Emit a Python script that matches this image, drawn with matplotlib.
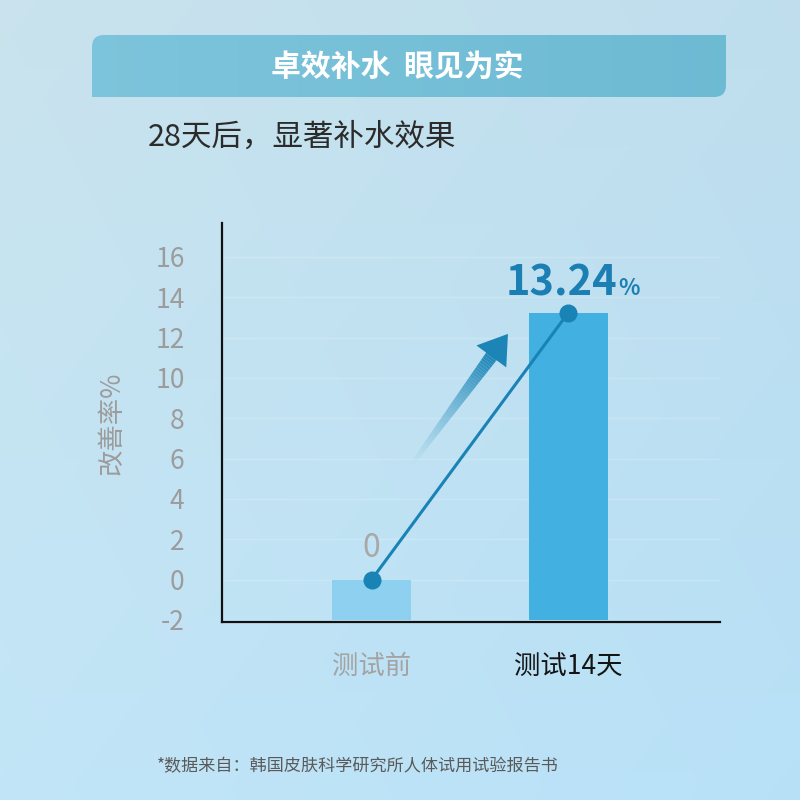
import numpy as np
import matplotlib
matplotlib.use("Agg")
import matplotlib.pyplot as plt
from matplotlib.path import Path
from matplotlib.patches import PathPatch, Polygon
from matplotlib.collections import LineCollection

plt.rcParams['font.family'] = ['Noto Sans CJK SC', 'DejaVu Sans']

# data
categories = ["测试前", "测试14天"]
values = [0, 13.24]
yticks = [-2, 0, 2, 4, 6, 8, 10, 12, 14, 16]
title = "卓效补水  眼见为实"
subtitle = "28天后，显著补水效果"
ylabel = "改善率%"
note = "*数据来自：韩国皮肤科学研究所人体试用试验报告书"

bar_colors = ["#8dd0f0", "#42b0e0"]
label_colors = ["#a3a3a3", "#141414"]
line_color = "#1a83b6"

fig = plt.figure(figsize=(8, 8), dpi=100)

# background in pixel coords
bg = fig.add_axes([0, 0, 1, 1], zorder=-10)
bg.set_xlim(0, 800)
bg.set_ylim(800, 0)
bg.axis("off")
yy, xx = np.mgrid[0:1:200j, 0:1:200j]
top = np.array([0.79, 0.89, 0.93])
bot = np.array([0.76, 0.90, 0.97])
right = np.array([-0.04, -0.02, 0.0])
grad = top * (1 - yy[..., None]) + bot * yy[..., None] + right * xx[..., None]
bg.imshow(np.clip(grad, 0, 1), extent=[0, 800, 800, 0], aspect="auto", interpolation="bicubic")

# banner with two rounded corners
x0, x1, y0, y1, r = 92, 726, 35, 97, 12
verts = [(x0 + r, y0), (x1, y0), (x1, y1 - r), (x1, y1), (x1 - r, y1),
         (x0, y1), (x0, y0 + r), (x0, y0), (x0 + r, y0), (x0 + r, y0)]
codes = [Path.MOVETO, Path.LINETO, Path.LINETO, Path.CURVE3, Path.CURVE3,
         Path.LINETO, Path.LINETO, Path.CURVE3, Path.CURVE3, Path.CLOSEPOLY]
banner = PathPatch(Path(verts, codes), facecolor="none", edgecolor="none")
bg.add_patch(banner)
bx = np.linspace(0, 1, 200)[None, :, None]
bgrad = np.array([0.49, 0.77, 0.86]) * (1 - bx) + np.array([0.43, 0.73, 0.83]) * bx
im = bg.imshow(np.repeat(bgrad, 2, axis=0), extent=[x0, x1, y1, y0], aspect="auto")
im.set_clip_path(banner)
bg.set_xlim(0, 800)
bg.set_ylim(800, 0)
bg.text(397, 67, title, color="white", fontsize=21.5, fontweight="bold", ha="center", va="center")
bg.text(148, 137, subtitle, color="#2b2b2b", fontsize=22, ha="left", va="center")
bg.text(112, 423, ylabel, color="#9c9c9c", fontsize=19, rotation=90, ha="center", va="center")
bg.text(157, 766, note, color="#5a5a5a", fontsize=12.3, ha="left", va="center")

# main chart
ax = fig.add_axes([0.2775, 0.2225, 0.6225, 0.4991])
ax.set_facecolor("none")
x = np.arange(len(categories))
ax.set_xlim(-0.76, 1.77)
ax.set_ylim(-2.1, 17.69)
base = yticks[0]
ax.bar(x, [v - base for v in values], bottom=base, width=0.4, color=bar_colors, zorder=2)
ax.plot(x, values, color=line_color, lw=2.2, marker="o", ms=12, zorder=4)

for s in ["top", "right"]:
    ax.spines[s].set_visible(False)
for s in ["left", "bottom"]:
    ax.spines[s].set_color("#111111")
    ax.spines[s].set_linewidth(1.6)
ax.set_yticks(yticks)
ax.set_yticklabels([str(t) for t in yticks])
ax.tick_params(axis="y", length=0, pad=27, labelsize=19, labelcolor="#9c9c9c")
ax.set_xticks(x)
ax.set_xticklabels(categories)
ax.tick_params(axis="x", length=0, pad=22, labelsize=19)
for lab, c in zip(ax.get_xticklabels(), label_colors):
    lab.set_color(c)
ax.yaxis.grid(True, color="white", alpha=0.18, lw=1)
ax.set_axisbelow(True)

# value labels
ax.annotate(f"{values[0]:g}", (x[0], values[0]), xytext=(0, 23), textcoords="offset points",
            ha="center", va="center", fontsize=23, color="#a8a8a8")
ax.annotate(f"{values[1]:.2f}", (x[1], values[1]), xytext=(35, 12.5), textcoords="offset points",
            ha="right", va="baseline", fontsize=30, fontweight="bold", color="#1b7fb3")
ax.annotate("%", (x[1], values[1]), xytext=(36, 12.5), textcoords="offset points",
            ha="left", va="baseline", fontsize=16, fontweight="bold", color="#1b7fb3")

# gradient arrow next to the line, built in display space
p0 = ax.transData.transform((x[0], values[0]))
p1 = ax.transData.transform((x[1], values[1]))
u = (p1 - p0) / np.linalg.norm(p1 - p0)
n = np.array([-u[1], u[0]])
tail = p0 + 0.34 * (p1 - p0) + 36 * n
tip = p0 + 0.84 * (p1 - p0) + 36 * n
head_len, head_w = 28, 37
hb = tip - head_len * u
inv = ax.transData.inverted()
N = 50
pts = np.linspace(tail, hb + 2 * u, N + 1)
segs = [inv.transform(pts[i:i + 2]) for i in range(N)]
t = np.linspace(0, 1, N)
cols = [(0.12, 0.53, 0.72, a) for a in t ** 1.3]
widths = (4 + 9 * t) * 0.72
ax.add_collection(LineCollection(segs, colors=cols, linewidths=widths, capstyle="butt", zorder=3))
head = np.array([tip, hb + head_w / 2 * n, hb - head_w / 2 * n])
ax.add_patch(Polygon(inv.transform(head), closed=True, color="#1c84b6", lw=0, zorder=3))

fig.savefig("out.png", dpi=100)
